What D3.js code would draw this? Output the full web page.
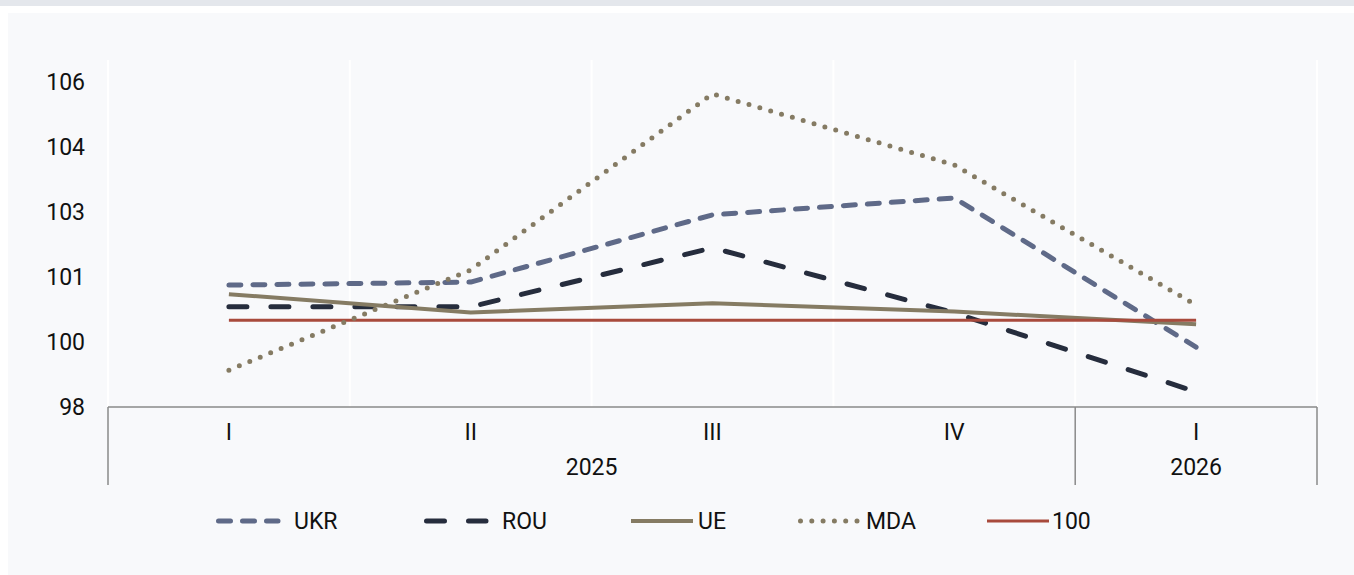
<!DOCTYPE html>
<html>
<head>
<meta charset="utf-8">
<script src="https://cdn.jsdelivr.net/npm/d3@7"></script>
<style>
  html, body { margin: 0; padding: 0; background: #fff; }
  svg { display: block; font-family: Roboto, "Noto Sans", sans-serif; }
</style>
</head>
<body>
<div id="chart"></div>
<script>
// quarters and the year each one belongs to
const quarters = ["I", "II", "III", "IV", "I"];
const years = ["2025", "2025", "2025", "2025", "2026"];

const ukr = [100.81, 100.88, 102.43, 102.82, 99.38];
const rou = [100.31, 100.31, 101.67, 100.17, 98.35];
const ue = [100.6, 100.18, 100.39, 100.2, 99.91];
const mda = [98.85, 101.16, 105.22, 103.58, 100.35];
const base = [100, 100, 100, 100, 100];

const yTicks = [98, 99.5, 101, 102.5, 104, 105.5];

const W = 1354, H = 575;
const margin = { top: 60, left: 108, right: 37, bottom: 168 };

const series = [
  { name: "UKR", values: ukr, color: "#5f6a88", width: 5, dash: "12,12", cap: "round", legendX: 216, textX: 294 },
  { name: "ROU", values: rou, color: "#262d3d", width: 5, dash: "18,24", cap: "round", legendX: 424, textX: 502 },
  { name: "UE", values: ue, color: "#857b63", width: 4, dash: null, cap: "butt", legendX: 631, textX: 698 },
  { name: "MDA", values: mda, color: "#857b63", width: 5, dash: "0,11.3", cap: "round", legendX: 798, textX: 866 },
  { name: "100", values: base, color: "#a84a3c", width: 3, dash: null, cap: "butt", legendX: 987, textX: 1052 }
];

const svg = d3.select("#chart").append("svg")
  .attr("width", W)
  .attr("height", H);

// background
svg.append("rect").attr("x", 0).attr("y", 0).attr("width", W).attr("height", 6).attr("fill", "#e4e7ec");
svg.append("rect").attr("x", 8).attr("y", 13).attr("width", W - 8).attr("height", H - 13).attr("fill", "#f8f9fb");

const plotW = W - margin.left - margin.right;
const plotBottom = 407;

const x = d3.scaleBand()
  .domain(d3.range(quarters.length))
  .range([margin.left, margin.left + plotW])
  .padding(0);

const y = d3.scaleLinear()
  .domain([98, 106])
  .range([plotBottom, margin.top]);

// vertical gridlines at category boundaries
const bounds = d3.range(quarters.length + 1).map(i => margin.left + i * x.bandwidth());
svg.append("g").selectAll("line")
  .data(bounds)
  .enter().append("line")
  .attr("x1", d => d).attr("x2", d => d)
  .attr("y1", margin.top).attr("y2", plotBottom)
  .attr("stroke", "#ffffff")
  .attr("stroke-width", 2);

// y axis labels (no line)
const yAxis = svg.append("g")
  .attr("transform", "translate(" + margin.left + ",0)")
  .call(d3.axisLeft(y).tickValues(yTicks).tickSize(0).tickPadding(23).tickFormat(d3.format(".0f")));
yAxis.select(".domain").remove();
yAxis.selectAll("text")
  .attr("font-size", 23)
  .attr("font-family", "Roboto, sans-serif")
  .attr("fill", "#111");

// multi-level category axis
const axisColor = "#8a8a8a";
const axisG = svg.append("g");
axisG.append("line")
  .attr("x1", margin.left).attr("x2", margin.left + plotW)
  .attr("y1", plotBottom).attr("y2", plotBottom)
  .attr("stroke", axisColor).attr("stroke-width", 1.5);

// year groups
const yearGroups = [];
years.forEach((yr, i) => {
  const last = yearGroups[yearGroups.length - 1];
  if (last && last.year === yr) last.end = i;
  else yearGroups.push({ year: yr, start: i, end: i });
});

const yearEdges = [margin.left].concat(yearGroups.map(g => x(g.end) + x.bandwidth()));
axisG.selectAll(".sep")
  .data(yearEdges)
  .enter().append("line")
  .attr("x1", d => d).attr("x2", d => d)
  .attr("y1", plotBottom).attr("y2", 485)
  .attr("stroke", axisColor).attr("stroke-width", 1.5);

axisG.selectAll(".q")
  .data(quarters)
  .enter().append("text")
  .attr("x", (d, i) => x(i) + x.bandwidth() / 2)
  .attr("y", 440)
  .attr("text-anchor", "middle")
  .attr("font-size", 23)
  .attr("fill", "#111")
  .text(d => d);

axisG.selectAll(".yr")
  .data(yearGroups)
  .enter().append("text")
  .attr("x", d => (x(d.start) + x(d.end) + x.bandwidth()) / 2)
  .attr("y", 475)
  .attr("text-anchor", "middle")
  .attr("font-size", 23)
  .attr("fill", "#111")
  .text(d => d.year);

// lines
const line = d3.line()
  .x((d, i) => x(i) + x.bandwidth() / 2)
  .y(d => y(d));

const drawOrder = ["UKR", "ROU", "UE", "100", "MDA"];
drawOrder.forEach(name => {
  const s = series.find(d => d.name === name);
  svg.append("path")
    .datum(s.values)
    .attr("d", line)
    .attr("fill", "none")
    .attr("stroke", s.color)
    .attr("stroke-width", s.width)
    .attr("stroke-linecap", s.cap)
    .attr("stroke-linejoin", "round")
    .attr("stroke-dasharray", s.dash);
});

// legend
const legY = 521;
const leg = svg.append("g");
series.forEach(s => {
  leg.append("line")
    .attr("x1", s.legendX + (s.cap === "round" ? 2.5 : 0))
    .attr("x2", s.legendX + 62)
    .attr("y1", legY).attr("y2", legY)
    .attr("stroke", s.color)
    .attr("stroke-width", s.width)
    .attr("stroke-linecap", s.cap)
    .attr("stroke-dasharray", s.dash);
  leg.append("text")
    .attr("x", s.textX)
    .attr("y", legY)
    .attr("dy", "0.35em")
    .attr("font-size", 23)
    .attr("fill", "#111")
    .text(s.name);
});
</script>
</body>
</html>
